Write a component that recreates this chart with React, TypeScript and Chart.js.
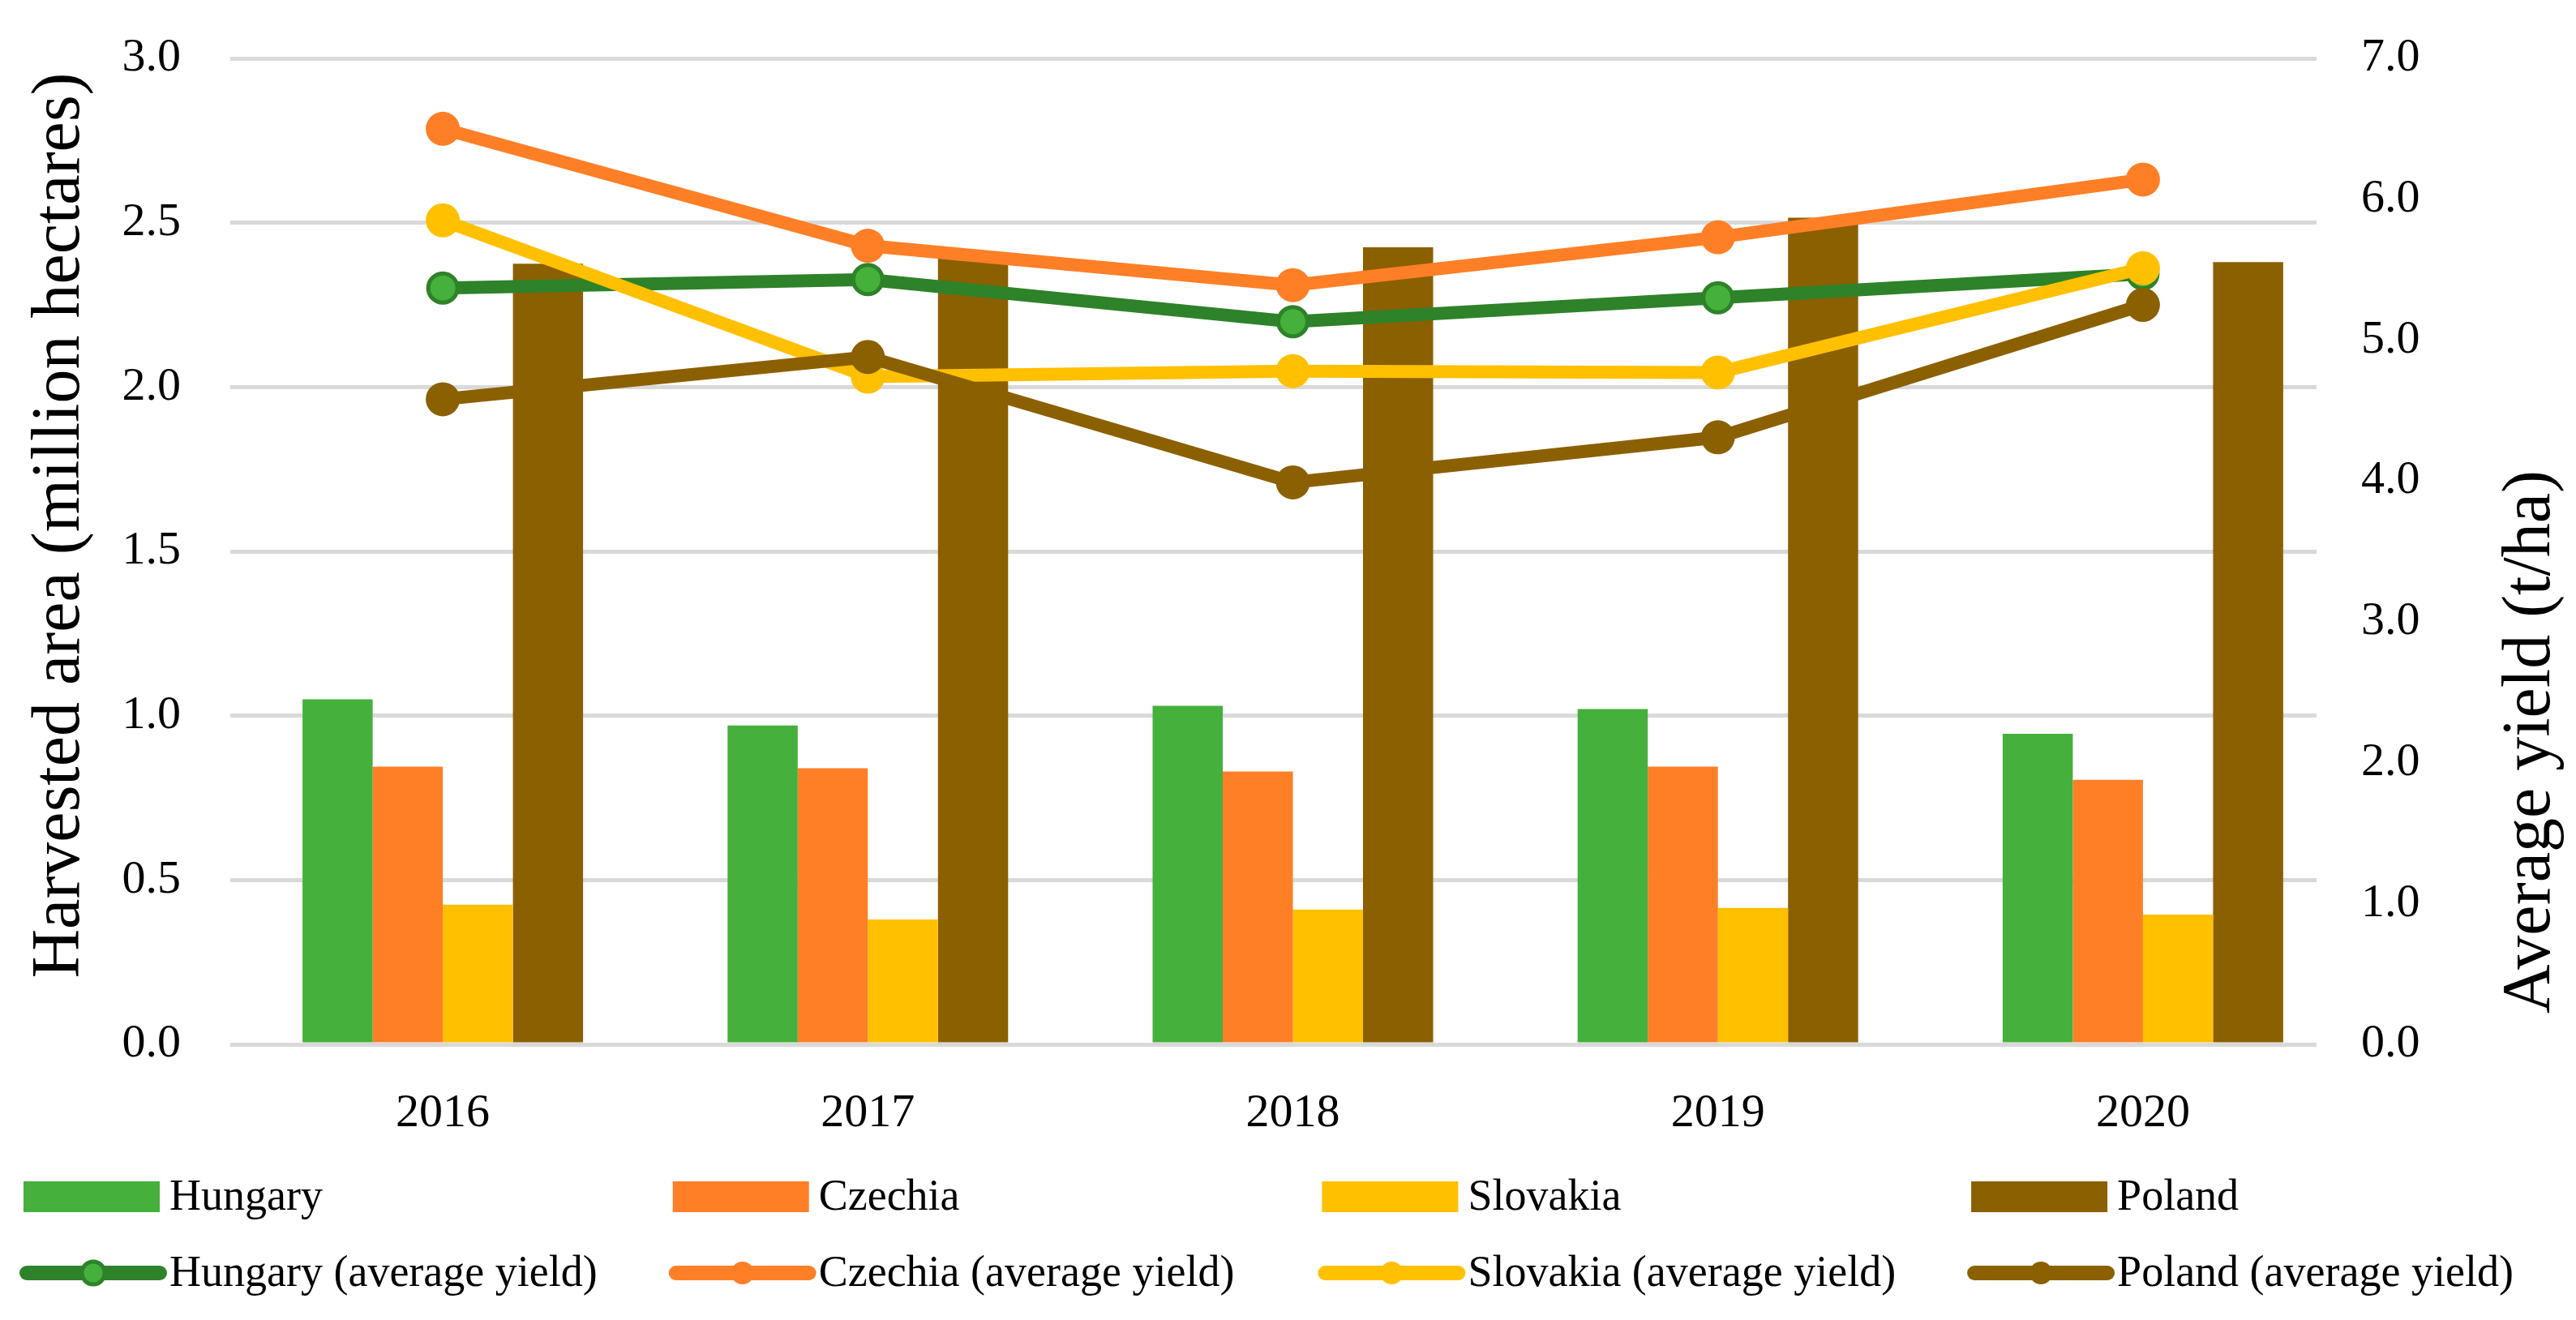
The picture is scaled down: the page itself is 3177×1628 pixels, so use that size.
import React, { useEffect, useRef } from 'react';
import { Chart, registerables } from 'chart.js';

Chart.register(...registerables);

// ---- data ----
const years = ['2016', '2017', '2018', '2019', '2020'];

const hungaryArea = [1.05, 0.97, 1.03, 1.02, 0.945];
const czechiaArea = [0.845, 0.84, 0.83, 0.845, 0.805];
const slovakiaArea = [0.425, 0.38, 0.41, 0.415, 0.395];
const polandArea = [2.375, 2.4, 2.425, 2.515, 2.38];

const hungaryYield = [5.37, 5.43, 5.13, 5.3, 5.47];
const czechiaYield = [6.5, 5.67, 5.39, 5.73, 6.14];
const slovakiaYield = [5.85, 4.74, 4.78, 4.77, 5.51];
const polandYield = [4.58, 4.88, 3.99, 4.31, 5.25];

const leftTitle = 'Harvested area (million hectares)';
const rightTitle = 'Average yield (t/ha)';

// ---- styles ----
const FONT = '"Liberation Serif", "Times New Roman", serif';
const GREEN = '#45B03B';
const DARK_GREEN = '#2E8229';
const ORANGE = '#FF7F27';
const YELLOW = '#FFC000';
const BROWN = '#8B6000';

const W = 3177;
const H = 1628;
const GRID_END = 2857;

// gridlines in the original stop a little before the right edge of the category band
const gridTrimPlugin = {
  id: 'gridTrim',
  beforeDatasetsDraw(chart: any) {
    const { ctx, chartArea } = chart;
    ctx.save();
    ctx.fillStyle = '#fff';
    ctx.fillRect(GRID_END, chartArea.top - 10, chartArea.right - GRID_END + 2, chartArea.bottom - chartArea.top + 20);
    ctx.restore();
  },
};

const overlayPlugin = {
  id: 'overlay',
  afterDraw(chart: any) {
    const ctx = chart.ctx as CanvasRenderingContext2D;
    ctx.save();
    // axis titles
    ctx.fillStyle = '#000';
    ctx.textAlign = 'center';
    ctx.textBaseline = 'middle';
    ctx.font = `84px ${FONT}`;
    ctx.save();
    ctx.translate(75, 648);
    ctx.rotate(-Math.PI / 2);
    ctx.fillText(leftTitle, 0, 0);
    ctx.restore();
    ctx.save();
    ctx.translate(3122, 915);
    ctx.rotate(-Math.PI / 2);
    ctx.fillText(rightTitle, 0, 0);
    ctx.restore();

    // legend grid (4 columns x 2 rows)
    ctx.font = `54px ${FONT}`;
    ctx.textAlign = 'left';
    ctx.textBaseline = 'middle';
    chart.data.datasets.forEach((ds: any, i: number) => {
      const col = i % 4;
      const row = Math.floor(i / 4);
      const x = 29 + col * 800.7;
      const y = row === 0 ? 1476 : 1570;
      if (ds.type === 'bar') {
        ctx.fillStyle = ds.backgroundColor;
        ctx.fillRect(x, y - 19, 168, 38);
      } else {
        ctx.strokeStyle = ds.borderColor;
        ctx.lineWidth = 18;
        ctx.lineCap = 'round';
        ctx.beginPath();
        ctx.moveTo(x + 4, y);
        ctx.lineTo(x + 168, y);
        ctx.stroke();
        ctx.beginPath();
        ctx.arc(x + 86, y, 14, 0, Math.PI * 2);
        ctx.fillStyle = ds.pointBackgroundColor;
        ctx.fill();
        if (ds.pointBorderWidth > 0) {
          ctx.lineWidth = 5;
          ctx.strokeStyle = ds.pointBorderColor;
          ctx.stroke();
        }
      }
      ctx.fillStyle = '#000';
      ctx.fillText(ds.label, x + 180, y + 2);
    });
    ctx.restore();
  },
};

export default function App() {
  const ref = useRef<HTMLCanvasElement>(null);

  useEffect(() => {
    document.body.style.margin = '0';
    const barCommon = {
      type: 'bar' as const,
      yAxisID: 'y',
      order: 10,
      borderWidth: 0,
      categoryPercentage: 0.66,
      barPercentage: 1.0,
    };
    const lineCommon = {
      type: 'line' as const,
      yAxisID: 'y1',
      borderWidth: 16,
      tension: 0,
      fill: false,
      pointRadius: 21,
      pointHoverRadius: 21,
      pointBorderWidth: 0,
    };
    const chart = new Chart(ref.current as HTMLCanvasElement, {
      type: 'bar',
      data: {
        labels: years,
        datasets: [
          { ...barCommon, label: 'Hungary', data: hungaryArea, backgroundColor: GREEN },
          { ...barCommon, label: 'Czechia', data: czechiaArea, backgroundColor: ORANGE },
          { ...barCommon, label: 'Slovakia', data: slovakiaArea, backgroundColor: YELLOW },
          { ...barCommon, label: 'Poland', data: polandArea, backgroundColor: BROWN },
          {
            ...lineCommon,
            label: 'Hungary (average yield)',
            data: hungaryYield,
            order: 4,
            borderColor: DARK_GREEN,
            backgroundColor: DARK_GREEN,
            pointBackgroundColor: GREEN,
            pointBorderColor: DARK_GREEN,
            pointRadius: 18,
            pointHoverRadius: 18,
            pointBorderWidth: 5,
          },
          {
            ...lineCommon,
            label: 'Czechia (average yield)',
            data: czechiaYield,
            order: 3,
            borderColor: ORANGE,
            backgroundColor: ORANGE,
            pointBackgroundColor: ORANGE,
            pointBorderColor: ORANGE,
          },
          {
            ...lineCommon,
            label: 'Slovakia (average yield)',
            data: slovakiaYield,
            order: 2,
            borderColor: YELLOW,
            backgroundColor: YELLOW,
            pointBackgroundColor: YELLOW,
            pointBorderColor: YELLOW,
          },
          {
            ...lineCommon,
            label: 'Poland (average yield)',
            data: polandYield,
            order: 1,
            borderColor: BROWN,
            backgroundColor: BROWN,
            pointBackgroundColor: BROWN,
            pointBorderColor: BROWN,
          },
        ] as any,
      },
      options: {
        animation: false,
        responsive: true,
        maintainAspectRatio: false,
        layout: { padding: { top: 72, left: 0, right: 0, bottom: 0 } },
        plugins: {
          legend: { display: false },
          tooltip: { enabled: false },
          title: { display: false },
        },
        scales: {
          x: {
            type: 'category',
            offset: true,
            grid: { display: false },
            border: { display: false },
            ticks: { font: { family: FONT, size: 58 }, color: '#000', padding: 43, maxRotation: 0 },
            afterFit: (s: any) => {
              s.height = 340;
            },
          },
          y: {
            position: 'left',
            min: 0,
            max: 3,
            ticks: {
              stepSize: 0.5,
              callback: (v: any) => Number(v).toFixed(1),
              font: { family: FONT, size: 58 },
              color: '#000',
              padding: 61,
            },
            grid: { color: '#D9D9D9', lineWidth: 5, drawTicks: false },
            border: { display: false },
            afterFit: (s: any) => {
              s.width = 284;
              s.paddingTop = 0;
              s.paddingBottom = 0;
            },
          },
          y1: {
            position: 'right',
            min: 0,
            max: 7,
            ticks: {
              stepSize: 1,
              callback: (v: any) => Number(v).toFixed(1),
              font: { family: FONT, size: 58 },
              color: '#000',
              padding: 7,
            },
            grid: { display: false, drawTicks: false },
            border: { display: false },
            afterFit: (s: any) => {
              s.width = 272;
              s.paddingTop = 0;
              s.paddingBottom = 0;
            },
          },
        },
      } as any,
      plugins: [gridTrimPlugin, overlayPlugin],
    });
    return () => chart.destroy();
  }, []);

  return (
    <div style={{ position: 'fixed', left: 0, top: 0, width: W, height: H, background: '#fff' }}>
      <canvas ref={ref} />
    </div>
  );
}
